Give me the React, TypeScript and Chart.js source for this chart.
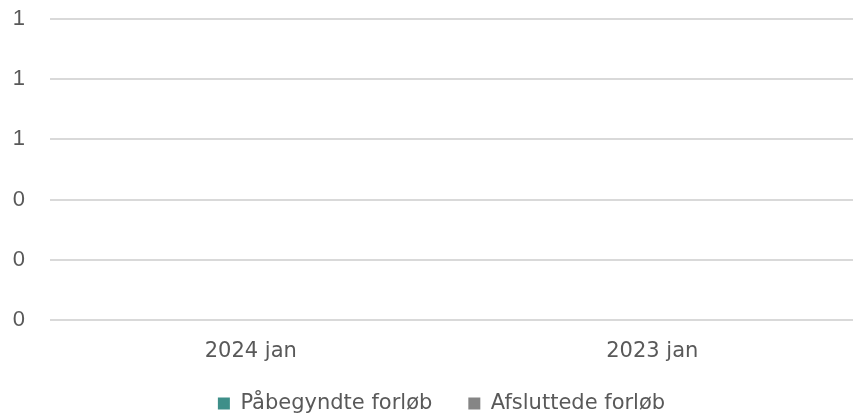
import React, { useEffect, useRef } from "react";
import { Chart, registerables } from "chart.js";

Chart.register(...registerables);

const categories = ["2024 jan", "2023 jan"];
const startedValues = [0, 0];
const finishedValues = [0, 0];
const seriesNames = ["Påbegyndte forløb", "Afsluttede forløb"];
const seriesColors = ["#3E8F89", "#858585"];
const yMin = 0;
const yMax = 1;
const yStep = 0.2;

// nudges the legend box after layout (pure placement tweak)
const legendShift = {
  id: "legendShift",
  afterLayout(chart: any) {
    const l = chart.legend;
    if (!l) return;
    l.left -= 10;
    l.right -= 10;
    l.top -= 9;
    l.bottom -= 9;
  },
};

export default function App() {
  const ref = useRef<HTMLCanvasElement | null>(null);
  useEffect(() => {
    document.body.style.margin = "0";
    const ctx = ref.current!;
    const chart = new Chart(ctx, {
      type: "bar",
      data: {
        labels: categories,
        datasets: [
          { label: seriesNames[0], data: startedValues, backgroundColor: seriesColors[0] },
          { label: seriesNames[1], data: finishedValues, backgroundColor: seriesColors[1] },
        ],
      },
      plugins: [legendShift],
      options: {
        animation: false,
        responsive: false,
        maintainAspectRatio: false,
        layout: { padding: { top: 19, right: 3, left: 0, bottom: -18 } },
        plugins: {
          tooltip: { enabled: false },
          legend: {
            position: "bottom",
            fullSize: false,
            labels: {
              boxWidth: 12,
              boxHeight: 12,
              padding: 36,
              color: "#595959",
              font: { family: "'DejaVu Sans'", size: 21 },
            },
          },
        },
        scales: {
          x: {
            grid: { display: false, drawTicks: false },
            border: { display: false },
            afterFit: (s: any) => {
              s.height = 46;
            },
            ticks: {
              color: "#595959",
              padding: 19,
              font: { family: "'DejaVu Sans'", size: 21 },
            },
          },
          y: {
            min: yMin,
            max: yMax,
            grid: { color: "#D9D9D9", lineWidth: 2, drawTicks: false },
            border: { display: false },
            afterFit: (s: any) => {
              s.width = 50;
              s.paddingTop = 0;
              s.paddingBottom = 0;
            },
            ticks: {
              stepSize: yStep,
              padding: 25,
              color: "#595959",
              font: { family: "'Liberation Sans'", size: 22 },
              callback: (v: any) => String(Math.round(Number(v))),
            },
          },
        },
      },
    });
    return () => chart.destroy();
  }, []);
  return (
    <div style={{ width: 856, height: 415 }}>
      <canvas ref={ref} width={856} height={415} />
    </div>
  );
}
